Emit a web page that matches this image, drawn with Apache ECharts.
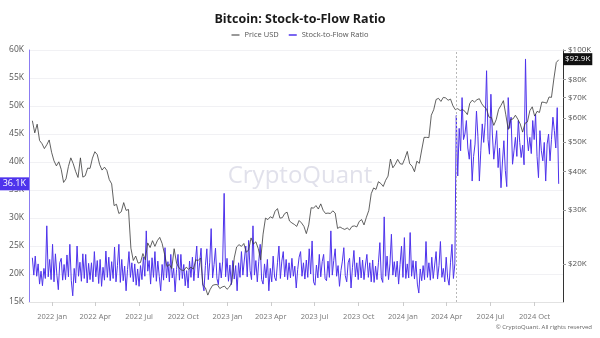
<!DOCTYPE html>
<html>
<head>
<meta charset="utf-8">
<script src="https://cdn.jsdelivr.net/npm/echarts@6/dist/echarts.min.js"></script>
<style>
html,body{margin:0;padding:0;background:#fff;}
#chart{width:600px;height:338px;}
</style>
</head>
<body>
<div id="chart"></div>
<script>
// ---- data (values in thousands) ----
const startDate = [2021, 10, 21];   // first value: 2021-11-21
const priceStepDays = 5;            // Price USD: one value every 5 days
const s2fStepDays = 3;              // Stock-to-Flow: one value every 3 days
const halvingDate = [2024, 3, 20];
const axisRange = [[2021, 10, 14], [2024, 10, 29]];
const xTickLabels = [[2022,0],[2022,3],[2022,6],[2022,9],[2023,0],[2023,3],[2023,6],[2023,9],[2024,0],[2024,3],[2024,6],[2024,9]];
const monthNames = ['Jan','Feb','Mar','Apr','May','Jun','Jul','Aug','Sep','Oct','Nov','Dec'];
const rightTicks = [20,30,40,50,60,70,80,100];

const priceUSD = [
  58.7,53.6,57.2,50.6,49.4,47.6,49.0,50.8,46.3,
  43.4,41.8,43.1,40.7,36.9,37.9,41.6,44.4,42.5,40.1,38.3,44.4,38.4,38.8,41.1,41.0,44.3,46.5,
  45.5,42.2,40.5,41.4,40.4,37.7,36.5,31.0,31.3,29.2,29.6,31.7,29.9,30.1,22.5,20.5,21.2,20.1,
  20.2,21.6,20.6,23.4,22.6,23.8,22.8,23.8,24.4,23.3,21.5,19.6,19.9,19.3,22.4,20.1,19.4,19.1,
  19.0,19.5,19.2,19.5,19.2,20.6,20.5,20.9,17.0,16.7,15.8,16.5,17.0,17.1,17.1,16.6,16.8,16.9,16.5,
  16.8,17.4,20.9,22.7,23.1,22.8,23.3,21.8,22.2,24.3,23.2,23.6,22.4,20.6,25.0,28.2,27.9,28.5,
  28.2,29.7,30.3,28.2,28.3,29.2,29.5,27.6,27.2,26.9,26.5,27.7,27.2,26.5,25.1,26.8,30.5,30.4,
  31.0,30.2,31.4,29.9,29.2,29.3,29.2,29.8,29.3,26.1,26.4,26.1,25.9,26.2,25.8,26.5,26.6,26.4,
  27.5,27.9,26.8,28.4,29.9,33.9,35.4,35.0,37.1,36.6,35.8,37.5,38.7,44.0,41.2,42.3,43.9,42.5,42.3,
  44.2,46.6,42.5,41.7,40.0,43.3,42.6,47.1,51.8,51.8,51.7,61.2,63.8,68.9,69.5,67.9,70.0,69.7,
  68.5,69.1,65.7,63.8,64.3,63.4,63.9,63.0,61.5,66.9,68.5,67.6,68.8,69.3,66.7,65.1,64.2,60.3,
  60.2,56.7,59.2,63.9,65.9,68.3,61.4,55.0,59.3,59.5,61.2,59.4,57.3,53.9,57.6,58.2,63.3,65.2,
  60.8,63.0,62.5,67.6,67.4,67.0,70.2,70.0,80.5,91.0,92.9
];

const stockToFlow = [
  22.9,19.8,23.2,19.6,21.8,18.2,20.5,17.9,21.0,19.2,28.6,19.5,22.6,19.0,25.3,18.6,23.6,19.8,17.2,22.0,
  22.8,18.9,21.7,19.0,23.4,19.5,25.3,18.8,16.1,21.0,18.4,25.0,19.6,22.1,18.7,23.6,19.2,23.5,18.4,21.9,
  19.0,22.0,18.6,24.0,19.5,22.4,18.3,22.6,17.8,21.2,18.9,24.1,19.4,23.0,18.8,22.2,19.2,24.8,18.6,21.5,
  25.3,18.5,22.6,18.8,21.4,17.0,20.8,24.0,19.4,22.0,18.6,21.8,18.0,20.9,17.8,21.5,19.0,23.0,19.6,27.7,
  20.5,22.4,18.2,22.9,19.4,24.0,18.7,22.3,19.6,17.0,21.7,18.9,24.7,19.3,22.2,18.6,23.5,19.3,21.0,16.8,
  20.8,23.5,18.9,23.5,19.2,21.7,17.9,20.6,17.5,22.3,19.4,23.0,18.8,22.1,25.0,19.3,22.0,24.6,18.4,17.0,
  21.5,24.5,19.0,22.1,28.1,19.3,21.7,24.6,19.2,18.1,22.0,19.3,22.3,34.4,19.5,22.8,18.7,21.6,18.1,22.4,
  19.1,21.5,17.0,22.0,19.4,24.0,19.8,22.5,25.0,19.5,26.0,20.6,19.0,28.6,19.8,22.4,18.6,22.2,25.3,19.0,
  18.2,21.8,19.3,22.6,17.0,21.0,18.6,23.2,19.4,18.8,22.0,25.0,19.2,22.3,24.0,19.5,22.6,19.0,22.0,19.3,
  22.8,19.6,21.4,17.5,20.8,23.0,24.0,19.6,22.0,19.1,22.5,19.4,24.5,20.0,25.9,18.6,18.0,21.6,19.3,23.5,
  19.5,22.2,23.5,19.2,18.8,22.3,19.4,27.7,19.8,22.4,24.5,19.6,21.5,17.8,20.6,22.3,24.7,19.7,18.6,22.0,
  22.8,17.5,21.2,24.2,19.5,22.0,19.0,23.0,19.3,22.5,19.0,21.6,23.5,19.4,22.0,18.6,22.5,18.5,21.4,19.0,
  22.0,25.6,19.3,18.5,30.2,19.6,23.2,19.0,21.8,27.1,19.8,22.2,19.5,22.3,18.2,21.7,25.0,19.4,26.5,19.2,
  21.8,19.3,27.4,19.6,22.4,19.1,22.3,18.2,16.6,20.9,18.8,21.5,19.0,25.8,19.4,22.0,18.9,23.0,19.2,21.6,
  24.0,19.1,21.5,25.8,19.4,21.0,18.6,23.0,19.3,18.0,22.1,25.3,19.2,21.8,
  48.3,37.5,46.0,42.0,51.5,44.0,45.0,47.4,42.5,40.5,44.0,36.6,41.0,43.2,49.1,44.5,36.6,42.0,46.8,43.5,
  47.0,56.3,44.0,41.4,52.1,45.0,40.5,43.0,45.6,39.0,42.5,35.4,40.0,43.8,38.5,35.6,51.5,46.0,48.0,39.6,
  42.0,44.4,41.0,47.4,43.5,40.8,43.0,39.5,58.4,45.0,42.0,44.4,41.5,47.4,44.0,48.5,41.0,37.2,45.6,42.0,
  40.2,43.5,36.6,43.2,45.0,40.2,44.0,48.0,45.6,42.5,49.7,36.1
];

// ---- build ----
function ts(y,m,d){ return new Date(y, m, d).getTime(); }
function dateAt(i, step){ return ts(startDate[0], startDate[1], startDate[2] + i*step); }
const s2fData = stockToFlow.map((v,i)=>[dateAt(i, s2fStepDays), v]);
const priceData = priceUSD.map((v,i)=>[dateAt(i, priceStepDays), Math.log10(v)]);
const lastS2F = stockToFlow[stockToFlow.length-1];
const lastPrice = priceUSD[priceUSD.length-1];
const xTickValues = xTickLabels.map(a=>ts(a[0], a[1], 1));

const BLUE = '#4e33ec';
const FONT = '"Open Sans", "Noto Sans", sans-serif';
const HIDDEN = {color:'rgba(0,0,0,0)', width:0};

const chart = echarts.init(document.getElementById('chart'), null, {renderer:'canvas'});
chart.setOption({
  animation:false,
  backgroundColor:'#fff',
  textStyle:{fontFamily:FONT},
  title:{
    text:'Bitcoin: Stock-to-Flow Ratio', left:'center', top:8,
    textStyle:{fontSize:12.5, fontWeight:'bold', color:'#1a1a1a', fontFamily:FONT}
  },
  legend:{
    top:26, left:'center', itemWidth:8, itemHeight:1.5, itemGap:10, icon:'rect',
    textStyle:{fontSize:7.5, color:'#555', fontFamily:FONT},
    data:[{name:'Price USD', itemStyle:{color:'#777'}}, {name:'Stock-to-Flow Ratio', itemStyle:{color:BLUE}}]
  },
  graphic:[
    {type:'text', left:'center', top:164, z:0, silent:true,
     style:{text:'CryptoQuant', fontSize:24, fontFamily:FONT, fill:'rgba(195,195,215,0.5)'}},
    {type:'text', right:8, top:324, silent:true,
     style:{text:'© CryptoQuant. All rights reserved', fontSize:6, fontFamily:FONT, fill:'#666'}}
  ],
  grid:{left:29, right:37, top:50, bottom:36},
  xAxis:{
    type:'value', min:ts.apply(null, axisRange[0]), max:ts.apply(null, axisRange[1]),
    axisLine:{show:true, lineStyle:{color:'#e2e2e2'}},
    axisTick:{show:true, customValues:xTickValues, length:4, lineStyle:{color:'#ccc'}},
    axisLabel:{customValues:xTickValues, fontSize:7.5, color:'#777', margin:11,
      formatter:function(v){ const d=new Date(v); return d.getFullYear()+' '+monthNames[d.getMonth()]; }},
    splitLine:{show:false}
  },
  yAxis:[
    {type:'value', position:'left', min:15, max:60, interval:5,
     axisLine:{show:true, lineStyle:{color:'#8b7cf2', width:1}},
     axisTick:{show:false},
     axisLabel:{fontSize:8.5, color:'#555', margin:5, formatter:function(v){return v+'K';}},
     splitLine:{show:true, lineStyle:{color:'#f1f1f4'}}
    },
    {type:'value', position:'right', min:Math.log10(15), max:2,
     axisLine:{show:true, lineStyle:{color:'#333', width:1}},
     axisTick:{show:true, customValues:rightTicks.map(v=>Math.log10(v)), length:3, lineStyle:{color:'#999'}},
     axisLabel:{customValues:rightTicks.map(v=>Math.log10(v)), fontSize:8, color:'#555', margin:5,
       formatter:function(v){ return '$'+Math.round(Math.pow(10,v))+'K'; }},
     splitLine:{show:false}
    }
  ],
  series:[
    {name:'Stock-to-Flow Ratio', type:'line', yAxisIndex:0, data:s2fData, showSymbol:false,
     lineStyle:{color:BLUE, width:1}, itemStyle:{color:BLUE}, z:2,
     markLine:{silent:true, symbol:'none', animation:false,
       data:[
         {yAxis:lastS2F, lineStyle:HIDDEN,
          label:{show:true, position:'start', distance:0, formatter:lastS2F.toFixed(1)+'K',
                 backgroundColor:BLUE, color:'#fff', fontSize:9, padding:[2,3,2,3], fontFamily:FONT}},
         {xAxis:ts.apply(null, halvingDate), lineStyle:{color:'#b8b8b8', type:[2,2], width:1}, label:{show:false}}
       ]}
    },
    {name:'Price USD', type:'line', yAxisIndex:1, data:priceData, showSymbol:false,
     lineStyle:{color:'#3a3a3a', width:0.8}, itemStyle:{color:'#777'}, z:3,
     markLine:{silent:true, symbol:'none', animation:false, z:10,
       data:[
         {yAxis:Math.log10(lastPrice), lineStyle:HIDDEN,
          label:{show:true, position:'end', distance:0, formatter:'$'+lastPrice.toFixed(1)+'K',
                 backgroundColor:'#111', color:'#fff', fontSize:8, padding:[2,2,2,2], fontFamily:FONT}}
       ]}
    }
  ]
});
</script>
</body>
</html>
